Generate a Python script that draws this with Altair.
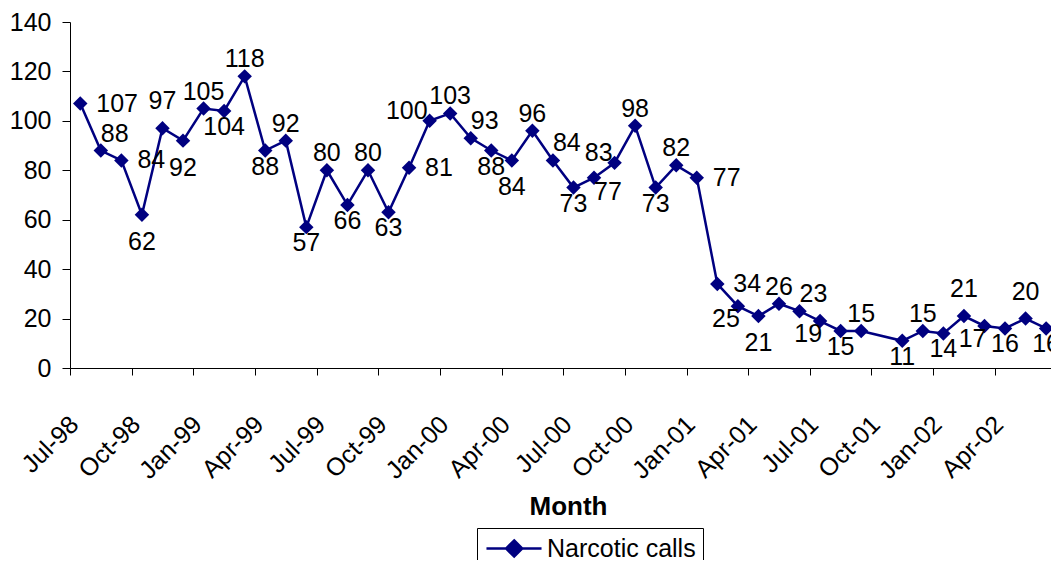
import json
import altair as alt
import pandas as pd

# ---- data ----
months = [
    "Jul-98", "Aug-98", "Sep-98", "Oct-98", "Nov-98", "Dec-98",
    "Jan-99", "Feb-99", "Mar-99", "Apr-99", "May-99", "Jun-99",
    "Jul-99", "Aug-99", "Sep-99", "Oct-99", "Nov-99", "Dec-99",
    "Jan-00", "Feb-00", "Mar-00", "Apr-00", "May-00", "Jun-00",
    "Jul-00", "Aug-00", "Sep-00", "Oct-00", "Nov-00", "Dec-00",
    "Jan-01", "Feb-01", "Mar-01", "Apr-01", "May-01", "Jun-01",
    "Jul-01", "Aug-01", "Sep-01", "Nov-01", "Dec-01",
    "Jan-02", "Feb-02", "Mar-02", "Apr-02", "May-02", "Jun-02",
]
calls = [
    107, 88, 84, 62, 97, 92,
    105, 104, 118, 88, 92, 57,
    80, 66, 80, 63, 81, 100,
    103, 93, 88, 84, 96, 84,
    73, 77, 83, 98, 73, 82,
    77, 34, 25, 21, 26, 23,
    19, 15, 15, 11, 15,
    14, 21, 17, 16, 20, 16,
]
# where each data label sits relative to its point (a=above, b=below, r=right, l=left ...)
label_side = [
    "r", "ar", "r", "bb", "aa", "bb",
    "a", "b", "a", "b", "a", "b",
    "a", "b", "a", "b", "r", "al",
    "a", "ar", "b", "bb", "a", "ar",
    "b", "br", "al", "a", "b", "a",
    "r", "r", "bl", "bb", "a", "ar",
    "bl", "b", "a", "b", "a",
    "b", "aa", "bl", "b", "aa", "b",
]
tick_labels = [
    "Jul-98", "Oct-98", "Jan-99", "Apr-99", "Jul-99", "Oct-99",
    "Jan-00", "Apr-00", "Jul-00", "Oct-00", "Jan-01", "Apr-01",
    "Jul-01", "Oct-01", "Jan-02", "Apr-02",
]
series_name = "Narcotic calls"

# ---- table ----
dates = pd.to_datetime(months, format="%b-%y")
df = pd.DataFrame({
    "month": months,
    "calls": calls,
    "side": label_side,
    "series": series_name,
})
# month slot index (Excel-style date axis with monthly base unit, points centred in slots)
df["pos"] = (dates.year - 1998) * 12 + dates.month - 7 + 0.5

FONT = "Liberation Sans"
NAVY = "#000080"
FS = 25
PLOT_W = 981
PLOT_H = 346
SLOT = 20.55

x_enc = alt.X(
    "pos:Q",
    scale=alt.Scale(domain=[0, PLOT_W / SLOT], nice=False, zero=False),
    axis=alt.Axis(
        values=list(range(0, 46, 3)),
        labelExpr=json.dumps(tick_labels) + "[round(datum.value / 3)]",
        labelAngle=-45,
        labelAlign="right",
        labelBaseline="middle",
        labelPadding=45,
        labelOffset=4,
        tickSize=7,
        grid=False,
        title="Month",
        titleFontWeight="bold",
        titleFontSize=26,
        titleX=498,
        titleY=146,
        titleBaseline="alphabetic",
        titleAnchor="middle",
        labelOverlap=False,
    ),
)
y_enc = alt.Y(
    "calls:Q",
    scale=alt.Scale(domain=[0, 140], nice=False),
    axis=alt.Axis(
        values=list(range(0, 141, 20)),
        grid=False,
        title=None,
        tickSize=8,
        labelPadding=11,
    ),
)

base = alt.Chart(df).encode(x=x_enc, y=y_enc)

line = base.mark_line(color=NAVY, strokeWidth=2.5)

legend_path = "M-0.92,0L3.67,0M1.39,-0.67L2.06,0L1.39,0.67L0.72,0Z"
points = base.mark_point(shape="diamond", filled=True, size=210, opacity=1).encode(
    color=alt.Color(
        "series:N",
        scale=alt.Scale(domain=[series_name], range=[NAVY]),
        legend=alt.Legend(
            orient="none",
            legendX=407,
            legendY=506,
            title=None,
            symbolType=legend_path,
            symbolSize=576,
            symbolFillColor=NAVY,
            symbolStrokeColor=NAVY,
            symbolStrokeWidth=2.5,
            labelFont=FONT,
            labelFontSize=FS,
            labelColor="black",
            labelOffset=36,
            labelLimit=400,
            padding=7,
            strokeColor="black",
            fillColor="white",
        ),
    )
)

offsets = {
    "a": (0, -17, "center"),
    "aa": (0, -27, "center"),
    "b": (0, 16, "center"),
    "bb": (0, 27, "center"),
    "r": (16, 0, "left"),
    "ar": (0, -17, "left"),
    "al": (-2, -10, "right"),
    "br": (0, 14, "left"),
    "bl": (2, 13, "right"),
}
text_layers = []
for side, (dx, dy, align) in offsets.items():
    text_layers.append(
        base.mark_text(
            dx=dx, dy=dy, align=align, baseline="middle",
            font=FONT, fontSize=FS, color="black",
        )
        .encode(text="calls:Q")
        .transform_filter(alt.datum.side == side)
    )

chart = (
    alt.layer(line, points, *text_layers)
    .properties(
        width=PLOT_W,
        height=PLOT_H,
        autosize=alt.AutoSizeParams(type="none"),
        padding={"left": 62, "top": 14, "right": 0, "bottom": 192},
    )
    .configure_view(stroke=None)
    .configure_axis(
        labelFont=FONT,
        labelFontSize=FS,
        labelColor="black",
        titleFont=FONT,
        titleColor="black",
        domainColor="black",
        tickColor="black",
        domainWidth=1,
        tickWidth=1,
    )
)

chart.save("out.html", embed_options={"renderer": "svg", "actions": False})
